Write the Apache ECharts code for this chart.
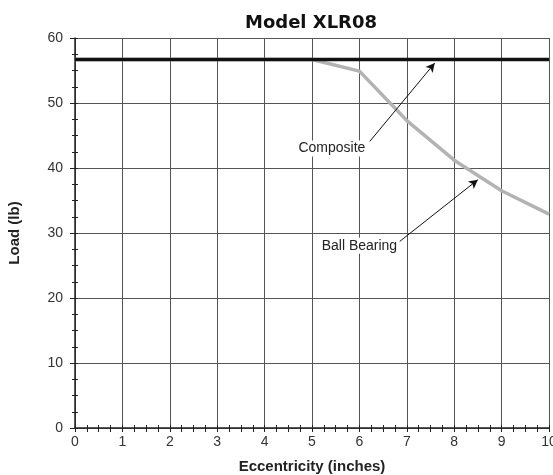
<!DOCTYPE html>
<html><head><meta charset="utf-8">
<script src="https://cdn.jsdelivr.net/npm/echarts@6/dist/echarts.min.js"></script>
<style>html,body{margin:0;padding:0;background:#fff}#c{width:553px;height:475px}</style>
</head><body><div id="c"></div>
<script>
var eccentricity = [0, 1, 2, 3, 4, 5, 6, 7, 8, 9, 10];
var composite = [56.7, 56.7, 56.7, 56.7, 56.7, 56.7, 56.7, 56.7, 56.7, 56.7, 56.7];
var ballBearing = [56.7, 56.7, 56.7, 56.7, 56.7, 56.7, 54.9, 47.3, 41.2, 36.5, 32.9];
var annotations = [
  {name: 'Composite', text: [5.42, 43.0], from: [6.22, 44.1], to: [7.59, 56.15]},
  {name: 'Ball Bearing', text: [6.0, 28.05], from: [6.85, 28.7], to: [8.5, 38.2]}
];

var font = '"Liberation Sans", Arial, sans-serif';
var chart = echarts.init(document.getElementById('c'), null, {renderer: 'canvas'});
function pairs(xs, ys) { return xs.map(function (x, i) { return [x, ys[i]]; }); }

chart.setOption({
  animation: false,
  backgroundColor: '#fff',
  title: {
    text: 'Model XLR08', left: 306, top: 9, textAlign: 'center',
    textStyle: {fontFamily: '"DejaVu Sans", sans-serif', fontWeight: 'bold', fontSize: 18, color: '#111'}
  },
  grid: {left: 75, right: 4, top: 38, bottom: 47, containLabel: false, outerBoundsMode: 'none'},
  xAxis: [{
    type: 'value', min: 0, max: 10, interval: 1,
    name: 'Eccentricity (inches)', nameLocation: 'middle', nameGap: 31,
    nameTextStyle: {fontFamily: font, fontWeight: 'bold', fontSize: 15, color: '#222'},
    axisLine: {show: true, onZero: false, lineStyle: {color: '#222', width: 1.5}},
    axisTick: {show: true, length: 4, lineStyle: {color: '#222'}},
    minorTick: {show: true, splitNumber: 4, length: 4, lineStyle: {color: '#222'}},
    axisLabel: {fontFamily: font, fontSize: 14, color: '#333', margin: 7},
    splitLine: {show: true, lineStyle: {color: '#555', width: 1}}
  }, {
    type: 'value', min: 0, max: 10, interval: 1, position: 'bottom',
    axisLine: {show: false}, axisLabel: {show: false}, splitLine: {show: false},
    axisTick: {show: true, inside: true, length: 3, lineStyle: {color: '#222'}},
    minorTick: {show: true, splitNumber: 4, length: 3, lineStyle: {color: '#222'}}
  }],
  yAxis: [{
    type: 'value', min: 0, max: 60, interval: 10,
    name: 'Load (lb)', nameLocation: 'middle', nameGap: 53, nameRotate: 90,
    nameTextStyle: {fontFamily: font, fontWeight: 'bold', fontSize: 15, color: '#222'},
    axisLine: {show: true, onZero: false, lineStyle: {color: '#222', width: 1.5}},
    axisTick: {show: true, length: 5, lineStyle: {color: '#222'}},
    minorTick: {show: true, splitNumber: 4, length: 3, lineStyle: {color: '#222'}},
    axisLabel: {fontFamily: font, fontSize: 14, color: '#333', margin: 12},
    splitLine: {show: true, lineStyle: {color: '#555', width: 1}}
  }, {
    type: 'value', min: 0, max: 60, interval: 10, position: 'left',
    axisLine: {show: false}, axisLabel: {show: false}, splitLine: {show: false},
    axisTick: {show: true, inside: true, length: 3, lineStyle: {color: '#222'}},
    minorTick: {show: true, splitNumber: 4, length: 3, lineStyle: {color: '#222'}}
  }],
  series: [{
    name: 'Ball Bearing', type: 'line', data: pairs(eccentricity, ballBearing),
    symbol: 'none', lineStyle: {color: '#b3b3b3', width: 3.5}, z: 3,
    markLine: {
      silent: true, symbol: ['none', 'arrow'], symbolSize: [7, 9],
      lineStyle: {color: '#111', width: 1, type: 'solid'}, label: {show: false},
      data: annotations.map(function (a) {
        return [{coord: a.from}, {coord: a.to}];
      })
    },
    markPoint: {
      silent: true, symbol: 'circle', symbolSize: 0,
      data: annotations.map(function (a) {
        return {coord: a.text, value: a.name,
          label: {show: true, position: 'inside', formatter: a.name,
            fontFamily: font, fontSize: 14, color: '#222',
            backgroundColor: '#fff', padding: [1, 2]}};
      })
    }
  }, {
    name: 'Composite', type: 'line', data: pairs(eccentricity, composite),
    symbol: 'none', lineStyle: {color: '#111', width: 3.5}, z: 4
  }]
});
</script></body></html>
